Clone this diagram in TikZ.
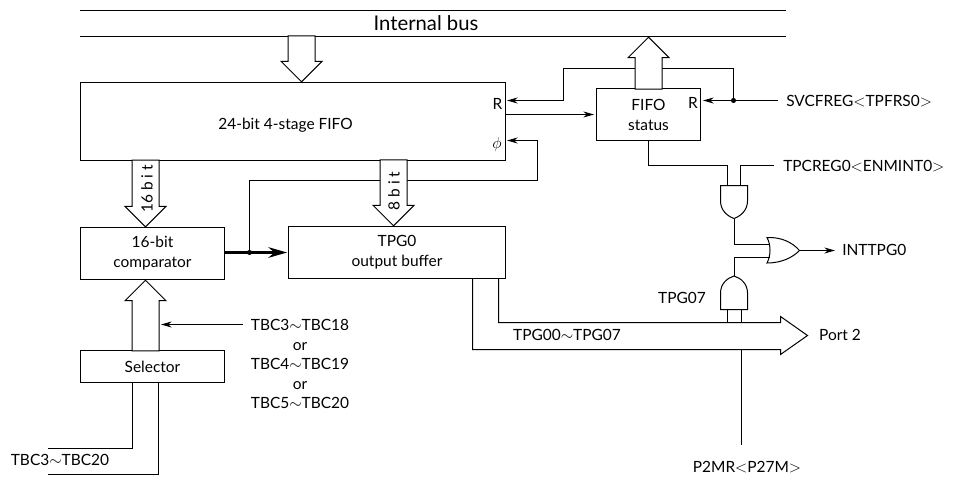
\documentclass[tikz,border=0pt]{standalone}
\usepackage{fontspec}
\setmainfont{Lato}
\usepackage{tikz}
\usetikzlibrary{shapes.arrows, arrows.meta}
\tikzstyle{block} = [rectangle,
    draw=black,
    inner sep=0pt,
    line width=0.75pt,
    text centered,
    align=center,
    font=\fontsize{11.6}{15}\selectfont]
\tikzstyle{busarrow} = [single arrow,
    draw=black,
    fill=white,
    line width=0.75pt,
    inner xsep=0pt,
    inner ysep=9.75pt,
    single arrow head extend=5.25pt,
    anchor=tip]
\tikzstyle{gate} = [draw=black, line width=0.75pt]
\tikzstyle{wire} = [line width=0.75pt]
\tikzstyle{arrow} = [line width=0.75pt,-{Stealth[length=8pt,width=4.5pt]}]
\tikzstyle{thickarrow} = [line width=1.6pt,-{Stealth[length=14pt,width=8pt]}]
\tikzstyle{dot} = [circle, fill=black, inner sep=0pt, minimum size=3.8pt]
\tikzstyle{tag} = [inner sep=0pt, font=\fontsize{11.6}{14.7}\selectfont]

\begin{document}
\begin{tikzpicture}[x=0.75pt, y=-0.75pt]
        \useasboundingbox (0,0) rectangle (955,479);

        % blocks
        \node (fifo) [block, minimum width=318.75pt, minimum height=58.5pt] at (293,121.5) {};
        \node (fifo_text) [tag] at (285.5,125) {24-bit 4-stage FIFO};
        \node (fifo_r) [tag] at (497.5,104) {R};
        \node (fifo_phi) [tag] at (497,144) {$\phi$};
        \node (status) [block, minimum width=78pt, minimum height=39pt] at (648.5,114.5) {FIFO\\status};
        \node (status_r) [tag] at (693,103) {R};
        \node (comparator) [block, minimum width=108pt, minimum height=39pt] at (152.5,253.5) {16-bit\\comparator};
        \node (buffer) [block, minimum width=162.75pt, minimum height=39pt] at (397,252.5) {TPG0\\output buffer};
        \node (selector) [block, minimum width=108pt, minimum height=24pt] at (152.5,366.5) {Selector};

        % free ends
        \coordinate (bus_top_w) at (80,10.5);
        \coordinate (bus_top_e) at (786,10.5);
        \coordinate (bus_low_w) at (80,36.5);
        \coordinate (bus_low_e) at (786,36.5);
        \coordinate (svc_in) at (778,100.5);
        \coordinate (svc_dot) at (733.5,100.5);
        \coordinate (fifo_r_turn) at (563.5,68.5);
        \coordinate (fifo_r_in) at (507,100.5);
        \coordinate (status_r_in) at (703,100.5);
        \coordinate (status_up_w) at (635.5,68.5);
        \coordinate (status_up_e) at (661.5,68.5);
        \coordinate (fifo_out) at (505.5,114.5);
        \coordinate (status_in) at (594,114.5);
        \coordinate (phi_in) at (507,140.5);
        \coordinate (phi_turn) at (537.5,180.5);
        \coordinate (comp_dot) at (249.5,252.5);
        \coordinate (comp_out) at (224.5,252.5);
        \coordinate (buffer_in) at (287,252.5);
        \coordinate (tpc_in) at (774,165.5);
        \coordinate (status_turn) at (648.5,165.5);
        \coordinate (tbc_in) at (243,324.5);
        \coordinate (tbc_end) at (161,324.5);
        \coordinate (sel_foot_a) at (132.5,382.5);
        \coordinate (sel_foot_b) at (158.5,382.5);
        \coordinate (sel_a) at (48,448.5);
        \coordinate (sel_b) at (48,474.5);
        \coordinate (int_out) at (835,250.5);
        \coordinate (p2mr_top) at (741.5,349.5);
        \coordinate (p2mr_in) at (741.5,445);
        \coordinate (buf_foot_a) at (472.5,278.5);
        \coordinate (buf_foot_b) at (498.5,278.5);

        \draw [wire] (bus_top_w) -- (bus_top_e);
        \draw [wire] (bus_low_w) -- (bus_low_e);

        % control lines
        \draw [arrow] (status_up_w) -- (fifo_r_turn) |- (fifo_r_in);
        \draw [wire] (status_up_e) -| (svc_dot);
        \draw [arrow] (svc_in) -- (status_r_in);
        \node (svc_node) [dot] at (svc_dot) {};
        \draw [arrow] (fifo_out) -- (status_in);
        \draw [arrow] (comp_dot) |- (phi_turn) |- (phi_in);
        \draw [thickarrow] (comp_out) -- (buffer_in);
        \node (comp_node) [dot] at (comp_dot) {};
        \draw [arrow] (tbc_in) -- (tbc_end);

        % wide arrows
        \node (bus_in) [busarrow, rotate=-90, minimum height=34.5pt] at (301.5,82.5) {};
        \node (bus_out) [busarrow, rotate=90, minimum height=39pt] at (648.5,36.5) {};
        \node (to_comp) [busarrow, rotate=-90, minimum height=50pt] at (145.5,227.5) {};
        \node (to_buffer) [busarrow, rotate=-90, minimum height=49.5pt] at (393.5,226.5) {};
        \node (from_sel) [busarrow, rotate=90, minimum height=53pt] at (145.5,279.5) {};
        \draw [wire] (sel_a) -| (sel_foot_a);
        \draw [wire] (sel_b) -| (sel_foot_b);
        \draw [wire] (buf_foot_a) |- (780.5,349.5) -- (780.5,354.5)
            -- (807.5,335.5) -- (780.5,316.5) -- (780.5,322.5) -| (buf_foot_b);

        % gates
        \draw [gate] (720.5,185.5) -- (747.5,185.5) -- (747.5,201)
            .. controls (747.5,210) and (741,216) .. (734,218.5)
            .. controls (727,216) and (720.5,210) .. (720.5,201) -- cycle;
        \draw [gate] (720.5,309.5) -- (747.5,309.5) -- (747.5,293)
            .. controls (747.5,284) and (741,278) .. (734,276)
            .. controls (727,278) and (720.5,284) .. (720.5,293) -- cycle;
        \draw [gate] (767,237.5) .. controls (781,237) and (792,242) .. (799.5,250.5)
            .. controls (792,258) and (781,263) .. (767,263)
            .. controls (771,255) and (771,245) .. (767,237.5) -- cycle;

        % gate wiring
        \coordinate (and_a_w) at (727.5,185.5);
        \coordinate (and_a_e) at (740.5,185.5);
        \coordinate (and_a_out) at (734,218.5);
        \coordinate (and_b_w) at (727.5,309.5);
        \coordinate (and_b_e) at (741.5,309.5);
        \coordinate (and_b_out) at (734,276);
        \coordinate (bus_tap_w) at (727.5,322.5);
        \coordinate (bus_tap_e) at (741.5,322.5);
        \coordinate (or_in_a) at (769.5,244.5);
        \coordinate (or_in_b) at (769.5,257.5);
        \coordinate (or_out) at (799.5,250.5);
        \draw [wire] (status.south) |- (status_turn) -| (and_a_w);
        \draw [wire] (tpc_in) -| (and_a_e);
        \draw [wire] (and_a_out) |- (or_in_a);
        \draw [wire] (and_b_out) |- (or_in_b);
        \draw [wire] (and_b_w) -- (bus_tap_w);
        \draw [wire] (and_b_e) -- (bus_tap_e);
        \draw [arrow] (or_out) -- (int_out);
        \draw [wire] (p2mr_top) -- (p2mr_in);

        % texts
        \node (bus_label) [tag, font=\fontsize{15.2}{18}\selectfont] at (426,23) {Internal bus};
        \node (bits_a) [tag, rotate=90] at (147,189) {16 b i t};
        \node (bits_b) [tag, rotate=90] at (394,191) {8 b i t};
        \node (svc_label) [tag, anchor=west] at (786,101) {SVCFREG{$<$}TPFRS0{$>$}};
        \node (tpc_label) [tag, anchor=west] at (783,166) {TPCREG0{$<$}ENMINT0{$>$}};
        \node (int_label) [tag, anchor=west] at (842,250) {INTTPG0};
        \node (tpg07_label) [tag] at (682,298) {TPG07};
        \node (tpg_label) [tag] at (567,335) {TPG00$\sim$TPG07};
        \node (port_label) [tag] at (840,335) {Port 2};
        \node (p2mr_label) [tag] at (747,467) {P2MR{$<$}P27M{$>$}};
        \node (tbc_label) [tag, align=center, anchor=north] at (300,319) {TBC3$\sim$TBC18\\or\\TBC4$\sim$TBC19\\or\\TBC5$\sim$TBC20};
        \node (sel_label) [tag] at (60,460) {TBC3$\sim$TBC20};
    \end{tikzpicture}
\end{document}
